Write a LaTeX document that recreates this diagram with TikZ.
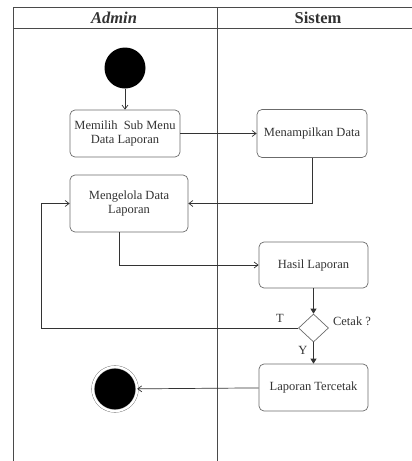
\documentclass[tikz,border=0pt]{standalone}
\usepackage{fontspec}
\setmainfont{Liberation Serif}
\usetikzlibrary{arrows.meta,shapes.geometric}
\definecolor{cLane}{HTML}{4A4A4A}
\definecolor{cBox}{HTML}{6B6B6B}
\definecolor{cInk}{HTML}{333333}

\begin{document}
\begin{tikzpicture}[x=1pt, y=-1pt, font=\fontsize{12.5}{14}\selectfont, text=cInk,
  lane/.style={draw=cLane, line width=0.9pt},
  act/.style={draw=cBox, rounded corners=5pt, align=center, minimum width=#1, inner sep=2pt, line width=0.7pt},
  dec/.style={diamond, draw=cBox, minimum width=30pt, minimum height=28pt, inner sep=0pt, line width=0.7pt},
  startpt/.style={circle, fill=black, minimum size=41pt, inner sep=0pt},
  endpt/.style={circle, fill=black, draw=cBox, double=white, double distance=2.4pt, minimum size=44pt, inner sep=0pt},
  flow/.style={->, draw=cInk, line width=0.7pt, >={Straight Barb[length=4pt, width=6pt]}},
  flowd/.style={->, draw=cInk, line width=0.7pt, >={Triangle[length=5pt, width=6pt]}},
  head/.style={font=\bfseries\fontsize{16.5}{17}\selectfont}]
  \useasboundingbox (0,0) rectangle (412,461);
  % swimlanes
  \foreach \y in {7,28} \draw[lane] (13,\y) -- (412,\y);
  \foreach \x in {13,217} \draw[lane] (\x,7) -- (\x,461);
  \node[head, font=\bfseries\itshape\fontsize{16.5}{17}\selectfont] (hAdmin) at (114,17.5) {Admin};
  \node[head] (hSistem) at (318,17.5) {Sistem};
  % nodes
  \node[startpt] (start) at (125,68) {};
  \node[act=110pt, minimum height=47pt] (act1) at (125,133.5) {Memilih\enspace Sub Menu\\Data Laporan};
  \node[act=110pt, minimum height=48pt] (act2) at (312,133.5) {Menampilkan Data};
  \node[act=118pt, minimum height=57pt] (act3) at (129,203.5) {Mengelola Data\\Laporan};
  \node[act=109pt, minimum height=46pt] (act4) at (313.5,265) {Hasil Laporan};
  \node[dec] (dec) at (313.5,328) {};
  \node[act=109pt, minimum height=47pt] (act5) at (313.5,387.5) {Laporan Tercetak};
  \node[endpt] (end) at (115,389) {};
  \node (lblC) at (352,321) {Cetak ?};
  \node (lblT) at (280,318) {T};
  \node (lblY) at (303,350) {Y};
  \coordinate (back) at (41,203.5);
  % connectors
  \draw[flow] (start) -- (act1);
  \draw[flow] (act1) -- (act2);
  \draw[flow] (act2.south) |- (act3.east);
  \draw[flow] ([xshift=-10pt]act3.south) |- (act4.west);
  \draw[flowd] (act4) -- (dec);
  \draw[flowd] (dec) -- (act5);
  \draw[flow] (dec.west) -| (back) -- (act3.west);
  \draw[flow] (act5) -- (end);
\end{tikzpicture}
\end{document}
